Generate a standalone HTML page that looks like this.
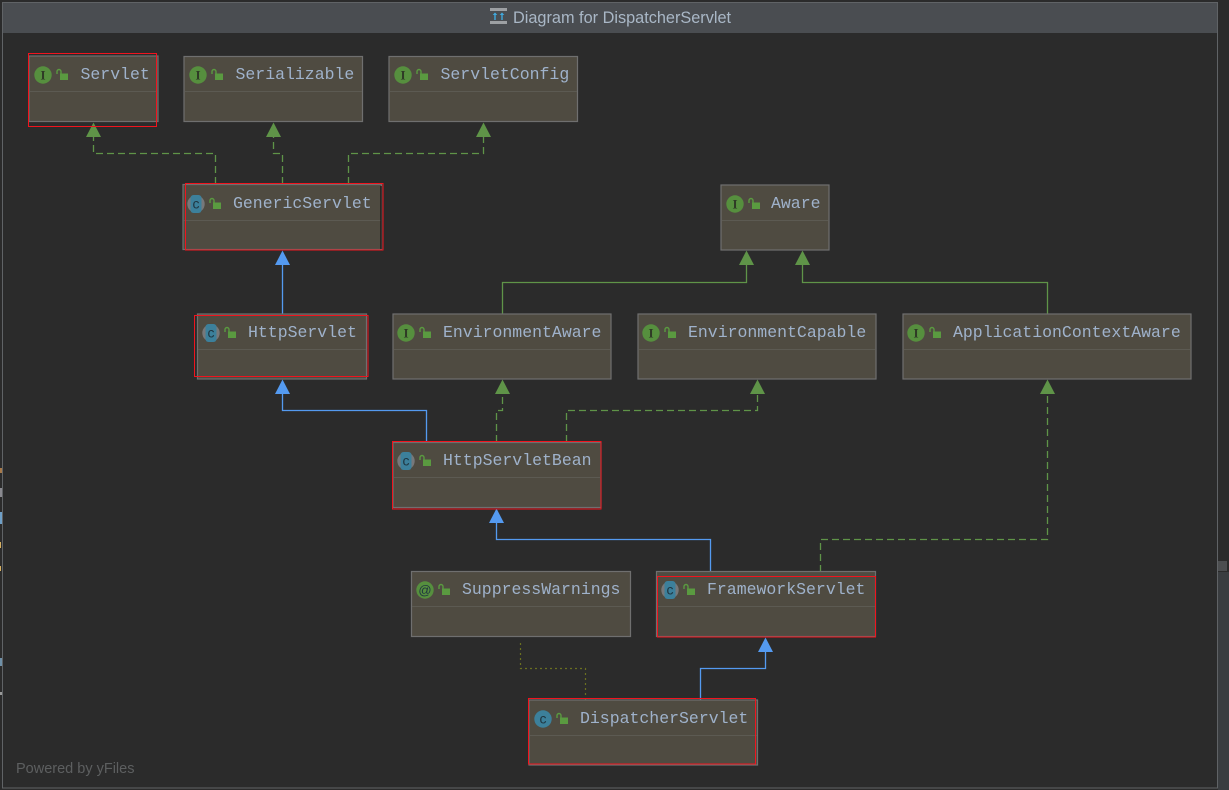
<!DOCTYPE html>
<html>
<head>
<meta charset="utf-8">
<style>
html,body{margin:0;padding:0;background:#2b2b2b;width:1229px;height:790px;overflow:hidden}
svg{display:block}
.n{fill:#4f4b41;stroke:#6f6f6f;stroke-width:1.2}
.s{stroke:#5c5a52;stroke-width:1}
.r{fill:none;stroke:#f0141e;stroke-width:1}
.t{font-family:"Liberation Mono",monospace;font-size:16.5px;fill:#9fb2cb}
.g{fill:none;stroke:#5f9448;stroke-width:1.3;stroke-dasharray:7 4}
.gs{fill:none;stroke:#5f9448;stroke-width:1.3}
.b{fill:none;stroke:#549af0;stroke-width:1.3}
.d{fill:none;stroke:#6b7020;stroke-width:1.2;stroke-dasharray:2 3}
.ag{fill:#5f9448}
.ab{fill:#549af0}
.ci{fill:#568f3e}
.cc{fill:#3c809b}
.l{font-family:"Liberation Serif",serif;font-size:13px;font-weight:bold;fill:#2f3a26;text-anchor:middle}
.lc{font-family:"Liberation Sans",sans-serif;font-size:14px;fill:#1f3540;text-anchor:middle}
.lk{fill:#5a9a40}
.lks{fill:none;stroke:#5a9a40;stroke-width:1.4}
</style>
</head>
<body>
<svg width="1229" height="790" viewBox="0 0 1229 790" xmlns="http://www.w3.org/2000/svg">
<defs>
<g id="lock">
<rect x="2.500" y="2.500" width="8" height="6.500" class="lk"/>
<path d="M-0.500 3 V0.500 a2 2 0 0 1 4 0 V3" class="lks"/>
</g>
<g id="I"><circle cx="0" cy="0" r="8.700" class="ci"/><text x="0" y="4.500" class="l">I</text></g>
<g id="C"><circle cx="0" cy="0" r="8.700" class="cc"/><text x="0" y="4.500" class="lc">c</text></g>
<g id="CA"><circle cx="0" cy="0" r="8.700" fill="#77787a"/><rect x="-5.500" y="-9" width="11" height="18" rx="3" class="cc"/><text x="0" y="4.500" class="lc">c</text></g>
<g id="A"><circle cx="0" cy="0" r="8.700" class="ci"/><text x="0" y="4.500" class="lc" style="font-size:13px">@</text></g>
</defs>

<rect x="0" y="0" width="1229" height="790" fill="#2b2b2b"/>
<rect x="2.500" y="2.500" width="1215" height="785.500" fill="#2b2b2b" stroke="#606366" stroke-width="1"/>
<rect x="3" y="3" width="1214" height="30" fill="#4a4d51"/>
<rect x="1218" y="561" width="9" height="10" fill="#4c4e50"/>
<rect x="1218" y="572" width="11" height="218" fill="#3a3d40"/>
<rect x="0" y="468" width="2" height="5" fill="#a87a4a"/>
<rect x="0" y="488" width="2" height="9" fill="#8a8a90"/>
<rect x="0" y="512" width="2" height="12" fill="#6fa0c8"/>
<rect x="0" y="542" width="1" height="6" fill="#d8b060"/>
<rect x="0" y="566" width="1" height="5" fill="#d8b060"/>
<rect x="0" y="658" width="2" height="8" fill="#6f90a8"/>
<rect x="0" y="692" width="2" height="3" fill="#9a9a9a"/>

<rect x="490" y="8" width="17" height="3" fill="#9da0a3"/>
<rect x="490" y="21" width="17" height="3" fill="#9da0a3"/>
<path d="M495 13 v7 M502 13 v7" stroke="#40a8dc" stroke-width="1.400"/>
<path d="M492.700 15 l2.300-2.500 l2.300 2.500z M499.700 15 l2.300-2.500 l2.300 2.500z" fill="#40a8dc"/>
<text x="513" y="23" font-family="'Liberation Sans',sans-serif" font-size="16.300px" fill="#a9b7c6">Diagram for DispatcherServlet</text>

<text x="16" y="773" font-family="'Liberation Sans',sans-serif" font-size="14.500px" fill="#5d5f60">Powered by yFiles</text>

<!-- edges -->
<path class="g" d="M215.500 184 V153.500 H93.500 V136"/>
<path class="g" d="M282.500 184 V153.500 H273.500 V136"/>
<path class="g" d="M348.500 184 V153.500 H483.500 V136"/>
<path class="gs" d="M502.500 314 V282.500 H746.500 V264"/>
<path class="gs" d="M1047.500 314 V282.500 H802.500 V264"/>
<path class="b" d="M282.500 314 V264"/>
<path class="b" d="M426.500 442 V410.500 H282.500 V392"/>
<path class="g" d="M496.500 442 V410.500 H502.500 V392"/>
<path class="g" d="M566.500 442 V410.500 H757.500 V392"/>
<path class="b" d="M710.500 572 V539.500 H496.500 V521"/>
<path class="g" d="M820.500 572 V539.500 H1047.500 V392"/>
<path class="b" d="M700.500 700 V668.500 H765.500 V650"/>
<path class="d" d="M585.500 700 V668.500 H520.500 V640"/>

<!-- arrowheads -->
<path class="ag" d="M93.500 122.500 L86 137 H101z"/>
<path class="ag" d="M273.500 122.500 L266 137 H281z"/>
<path class="ag" d="M483.500 122.500 L476 137 H491z"/>
<path class="ag" d="M746.500 250.500 L739 265 H754z"/>
<path class="ag" d="M802.500 250.500 L795 265 H810z"/>
<path class="ab" d="M282.500 250.500 L275 265 H290z"/>
<path class="ab" d="M282.500 379.500 L275 394 H290z"/>
<path class="ag" d="M502.500 379.500 L495 394 H510z"/>
<path class="ag" d="M757.500 379.500 L750 394 H765z"/>
<path class="ag" d="M1047.500 379.500 L1040 394 H1055z"/>
<path class="ab" d="M496.500 508.500 L489 523 H504z"/>
<path class="ab" d="M765.500 637.500 L758 652 H773z"/>

<!-- nodes -->
<rect class="n" x="29" y="56" width="129" height="65.500"/>
<line class="s" x1="30" x2="157" y1="91.500" y2="91.500"/>
<use href="#I" x="43" y="75"/><use href="#lock" x="57.500" y="71"/>
<text class="t" x="80.500" y="79">Servlet</text>

<rect class="n" x="184" y="56.500" width="178.500" height="65"/>
<line class="s" x1="185" x2="362" y1="91.500" y2="91.500"/>
<use href="#I" x="198" y="75"/><use href="#lock" x="212.500" y="71"/>
<text class="t" x="235.500" y="79">Serializable</text>

<rect class="n" x="389" y="56.500" width="188.500" height="65"/>
<line class="s" x1="390" x2="577" y1="91.500" y2="91.500"/>
<use href="#I" x="403" y="75"/><use href="#lock" x="417.500" y="71"/>
<text class="t" x="440.500" y="79">ServletConfig</text>

<rect class="n" x="183" y="184.500" width="198.500" height="65"/>
<line class="s" x1="184" x2="381" y1="220.500" y2="220.500"/>
<use href="#CA" x="196" y="204"/><use href="#lock" x="210.500" y="200"/>
<text class="t" x="233" y="208">GenericServlet</text>
<line x1="381" x2="381" y1="186" y2="249" stroke="#111" stroke-width="1.200"/>

<rect class="n" x="721" y="185" width="108" height="65"/>
<line class="s" x1="722" x2="828" y1="220.500" y2="220.500"/>
<use href="#I" x="735" y="204"/><use href="#lock" x="749.500" y="200"/>
<text class="t" x="771" y="208">Aware</text>

<rect class="n" x="197.500" y="314" width="169" height="65"/>
<line class="s" x1="198" x2="366" y1="349.500" y2="349.500"/>
<use href="#CA" x="211" y="333"/><use href="#lock" x="225.500" y="329"/>
<text class="t" x="248" y="337">HttpServlet</text>

<rect class="n" x="393" y="314" width="218" height="65"/>
<line class="s" x1="394" x2="610" y1="349.500" y2="349.500"/>
<use href="#I" x="406" y="333"/><use href="#lock" x="420.500" y="329"/>
<text class="t" x="443" y="337">EnvironmentAware</text>

<rect class="n" x="638" y="314" width="238" height="65"/>
<line class="s" x1="639" x2="875" y1="349.500" y2="349.500"/>
<use href="#I" x="651" y="333"/><use href="#lock" x="665.500" y="329"/>
<text class="t" x="688" y="337">EnvironmentCapable</text>

<rect class="n" x="903" y="314" width="288" height="65"/>
<line class="s" x1="904" x2="1190" y1="349.500" y2="349.500"/>
<use href="#I" x="916" y="333"/><use href="#lock" x="930.500" y="329"/>
<text class="t" x="953" y="337">ApplicationContextAware</text>

<rect class="n" x="393" y="442.500" width="208" height="65"/>
<line class="s" x1="394" x2="600" y1="477.500" y2="477.500"/>
<use href="#CA" x="406" y="461"/><use href="#lock" x="420.500" y="457"/>
<text class="t" x="443" y="465">HttpServletBean</text>

<rect class="n" x="411.500" y="571.500" width="219" height="65"/>
<line class="s" x1="412" x2="630" y1="606.500" y2="606.500"/>
<use href="#A" x="425" y="590"/><use href="#lock" x="439.500" y="586"/>
<text class="t" x="462" y="594">SuppressWarnings</text>

<rect class="n" x="656.500" y="571.500" width="219" height="65"/>
<line class="s" x1="657" x2="875" y1="606.500" y2="606.500"/>
<use href="#CA" x="670" y="590"/><use href="#lock" x="684.500" y="586"/>
<text class="t" x="707" y="594">FrameworkServlet</text>

<rect class="n" x="529" y="700" width="228.500" height="65"/>
<line class="s" x1="530" x2="757" y1="735.500" y2="735.500"/>
<use href="#C" x="543" y="719"/><use href="#lock" x="557.500" y="715"/>
<text class="t" x="580" y="723">DispatcherServlet</text>

<!-- red highlights -->
<rect class="r" x="28.500" y="53.500" width="128" height="73"/>
<rect class="r" x="185.500" y="183.500" width="197.500" height="66.500"/>
<rect class="r" x="194.500" y="315.500" width="173.500" height="61"/>
<rect class="r" x="392.500" y="441.500" width="208.500" height="67.500"/>
<rect class="r" x="657.500" y="576.500" width="218" height="60.500"/>
<rect class="r" x="528.500" y="698.500" width="227" height="65.500"/>
</svg>
</body>
</html>
